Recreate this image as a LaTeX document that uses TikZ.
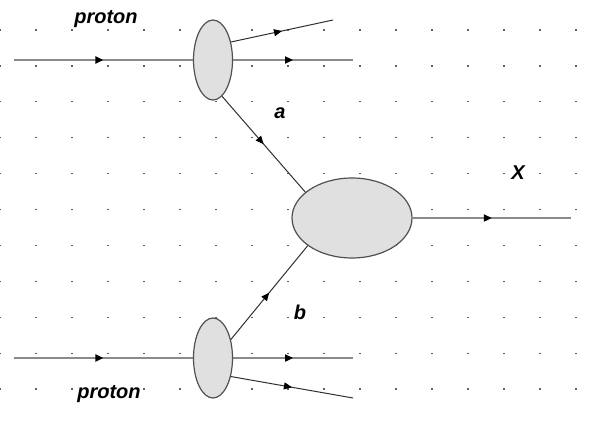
\documentclass[tikz,border=0pt]{standalone}
\usepackage{fontspec}
\setmainfont{Liberation Sans}
\usetikzlibrary{shapes.geometric,arrows.meta,decorations.markings}

\definecolor{blobfill}{HTML}{E0E0E0}
\definecolor{blobline}{HTML}{505050}
\definecolor{beamline}{HTML}{8A8A8A}
\definecolor{thinline}{HTML}{303030}
\definecolor{dotcol}{HTML}{606060}

\tikzset{
  blob/.style={ellipse, draw=blobline, fill=blobfill, line width=1.2pt, inner sep=0pt},
  beam/.style={draw=beamline, line width=2.4pt},
  track/.style={draw=thinline, line width=1pt},
  midarrow/.style={postaction={decorate}, decoration={markings,
      mark=at position 0.5 with {\arrow{Triangle[length=8pt,width=7pt,black]}}}},
  lbl/.style={font=\fontsize{20}{20}\selectfont\bfseries\itshape, text=black, inner sep=0pt},
}

\begin{document}
\begin{tikzpicture}[x=1pt,y=-1pt]
  \useasboundingbox (0,0) rectangle (606,424);

  % dotted grid
  \foreach \i in {0,...,16} {
    \foreach \j in {0,...,10} {
      \fill[dotcol] ({\i*36},{30+\j*35.9}) ++(-0.6,-0.6) rectangle ++(1.2,1.2);
    }
  }

  % interaction blobs
  \node[blob, minimum width=39pt, minimum height=80pt] (p1) at (213,60) {};
  \node[blob, minimum width=39pt, minimum height=80pt] (p2) at (213,358) {};
  \node[blob, minimum width=120pt, minimum height=80pt] (hx) at (352,218) {};

  % free ends of the external lines
  \coordinate (in1)  at (14,60);
  \coordinate (out1) at (353,60);
  \coordinate (rem1) at (333,20);
  \coordinate (in2)  at (14,358);
  \coordinate (out2) at (353,358);
  \coordinate (rem2) at (353,398);
  \coordinate (xout) at (571,218);

  % upper proton
  \draw[beam, midarrow] (in1) -- (p1.west);
  \draw[beam, midarrow] (p1.east) -- (out1);
  \draw[track, midarrow] (p1.45) -- (rem1);

  % lower proton
  \draw[beam, midarrow] (in2) -- (p2.west);
  \draw[beam, midarrow] (p2.east) -- (out2);
  \draw[track, midarrow] (p2.-46) -- (rem2);

  % partons into the hard process
  \draw[track, midarrow] (p1.-76) -- (hx.151);
  \draw[track, midarrow] (p2.46) -- (hx.212);

  % produced state
  \draw[beam, midarrow] (hx.east) -- (xout);

  % labels
  \node[lbl] (t1) at (106,19) {proton};
  \node[lbl] (t2) at (109,394) {proton};
  \node[lbl] (ta) at (280,113) {a};
  \node[lbl] (tb) at (300,312) {b};
  \node[lbl] (tx) at (518,173) {X};
\end{tikzpicture}
\end{document}
